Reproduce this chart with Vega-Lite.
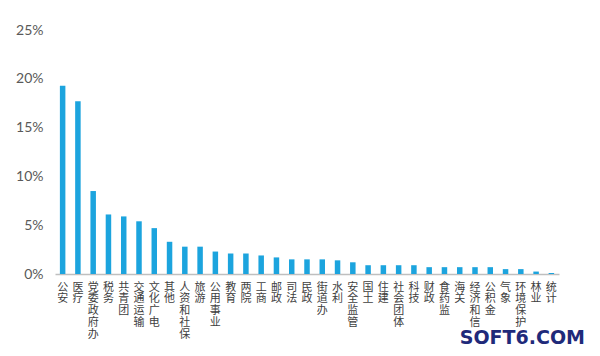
{
  "$schema": "https://vega.github.io/schema/vega-lite/v6.json",
  "autosize": "none",
  "width": 504,
  "height": 244,
  "padding": {"left": 55, "top": 30, "right": 41, "bottom": 82},
  "background": "white",
  "config": {"view": {"stroke": null}},
  "title": {
    "text": "SOFT6.COM",
    "orient": "bottom",
    "anchor": "end",
    "frame": "group",
    "font": "DejaVu Sans",
    "fontWeight": "bold",
    "fontSize": 19,
    "color": "#1F2A7A",
    "dx": 26,
    "offset": -10
  },
  "data": {
    "values": [
      {"dept": "公安", "share": 0.193},
      {"dept": "医疗", "share": 0.177},
      {"dept": "党委政府办", "share": 0.085},
      {"dept": "税务", "share": 0.061},
      {"dept": "共青团", "share": 0.059},
      {"dept": "交通运输", "share": 0.054},
      {"dept": "文化广电", "share": 0.047},
      {"dept": "其他", "share": 0.033},
      {"dept": "人资和社保", "share": 0.028},
      {"dept": "旅游", "share": 0.028},
      {"dept": "公用事业", "share": 0.023},
      {"dept": "教育", "share": 0.021},
      {"dept": "两院", "share": 0.021},
      {"dept": "工商", "share": 0.019},
      {"dept": "邮政", "share": 0.017},
      {"dept": "司法", "share": 0.015},
      {"dept": "民政", "share": 0.015},
      {"dept": "街道办", "share": 0.015},
      {"dept": "水利", "share": 0.014},
      {"dept": "安全监管", "share": 0.012},
      {"dept": "国土", "share": 0.009},
      {"dept": "住建", "share": 0.009},
      {"dept": "社会团体", "share": 0.009},
      {"dept": "科技", "share": 0.009},
      {"dept": "财政", "share": 0.007},
      {"dept": "食药监", "share": 0.007},
      {"dept": "海关", "share": 0.007},
      {"dept": "经济和信", "share": 0.007},
      {"dept": "公积金", "share": 0.007},
      {"dept": "气象", "share": 0.005},
      {"dept": "环境保护", "share": 0.005},
      {"dept": "林业", "share": 0.0025},
      {"dept": "统计", "share": 0.001}
    ]
  },
  "mark": {"type": "bar", "color": "#1CA4DE"},
  "encoding": {
    "x": {
      "field": "dept",
      "type": "nominal",
      "sort": null,
      "scale": {"paddingInner": 0.64, "paddingOuter": 0.32},
      "axis": {
        "title": null,
        "labelAngle": 0,
        "labelExpr": "split(datum.label, '')",
        "labelFont": "Noto Sans CJK SC",
        "labelFontSize": 11,
        "labelLineHeight": 11.8,
        "labelColor": "#404040",
        "labelPadding": 7,
        "labelBaseline": "top",
        "labelOverlap": false,
        "ticks": false,
        "domainColor": "#BFBFBF",
        "domainWidth": 1.5
      }
    },
    "y": {
      "field": "share",
      "type": "quantitative",
      "scale": {"domain": [0, 0.25]},
      "axis": {
        "title": null,
        "format": ".0%",
        "values": [0, 0.05, 0.1, 0.15, 0.2, 0.25],
        "grid": false,
        "domain": false,
        "ticks": false,
        "labelFont": "Lato",
        "labelFontSize": 14,
        "labelColor": "#595959",
        "labelPadding": 12
      }
    }
  }
}
